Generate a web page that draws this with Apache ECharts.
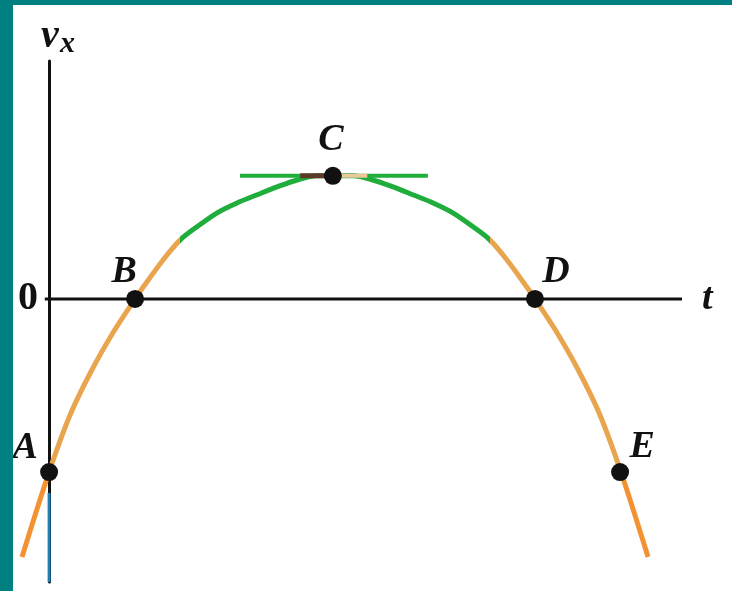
<!DOCTYPE html>
<html>
<head>
<meta charset="utf-8">
<script src="https://cdn.jsdelivr.net/npm/echarts@6/dist/echarts.min.js"></script>
<style>
  html, body { margin: 0; padding: 0; background: #008080; width: 732px; height: 591px; overflow: hidden; }
  #frame { position: absolute; left: 13px; top: 5px; width: 719px; height: 586px; background: #ffffff; }
  #chart { width: 719px; height: 586px; }
</style>
</head>
<body>
<div id="frame"><div id="chart"></div></div>
<script>
// ---- data (t, v_x) ----
const curveT = [-0.63, 0, 0.5, 1.0, 1.5, 2.0, 2.19, 2.65, 3.05, 3.44, 3.91, 4.37, 4.84, 5.30, 5.77, 6.23, 6.6, 7.07, 7.53, 8.0, 8.46, 8.93, 9.39, 9.86, 10.25, 10.65, 11.11, 11.3, 11.8, 12.3, 12.8, 13.3, 13.93];
const curveV = [-6.29, -4.22, -2.80, -1.72, -0.80, 0, 0.29, 0.95, 1.44, 1.76, 2.10, 2.34, 2.54, 2.73, 2.90, 3.0, 3.0, 3.0, 2.90, 2.73, 2.54, 2.34, 2.10, 1.76, 1.44, 0.95, 0.29, 0, -0.80, -1.72, -2.80, -4.22, -6.29];
const pointNames = ['A', 'B', 'C', 'D', 'E'];
const pointT = [0, 2.0, 6.6, 11.3, 13.28];
const pointV = [-4.22, 0, 3.0, 0, -4.22];
const tangentC = [[4.44, 3.0], [8.81, 3.0]];
const brownSeg = [[5.84, 3.0], [6.6, 3.0]];
const tanSeg = [[6.6, 3.0], [7.4, 3.0]];
const blueAxisSeg = [[0, -4.73], [0, -6.9]];
const tAxisSeg = [[-0.1, 0], [14.72, 0]];
const colorBreaksT = [0, 3.05, 10.25, 13.3];
const yTickLabels = [0];

const curve = curveT.map((t, i) => [t, curveV[i]]);
const labelOffsets = { A: [-24, -24], B: [-11, -27], C: [-2, -36], D: [21, -27], E: [22, -25] };
const points = pointNames.map((n, i) => ({
  name: n,
  value: [pointT[i], pointV[i]],
  label: { offset: labelOffsets[n] }
}));

const serif = '"Liberation Serif", "DejaVu Serif", serif';
const chart = echarts.init(document.getElementById('chart'));
chart.setOption({
  animation: false,
  backgroundColor: '#ffffff',
  grid: { left: 6, right: 50, top: 56, bottom: 9, containLabel: false, outerBoundsMode: 'none' },
  visualMap: {
    type: 'piecewise', show: false, dimension: 0, seriesIndex: 2,
    pieces: [
      { lt: colorBreaksT[0], color: '#f39232' },
      { gte: colorBreaksT[0], lt: colorBreaksT[1], color: '#e9a54e' },
      { gte: colorBreaksT[1], lt: colorBreaksT[2], color: '#1fae3c' },
      { gte: colorBreaksT[2], lt: colorBreaksT[3], color: '#e9a54e' },
      { gte: colorBreaksT[3], color: '#f39232' }
    ]
  },
  xAxis: {
    type: 'value', min: -0.7, max: 14.72,
    splitLine: { show: false }, axisTick: { show: false }, axisLabel: { show: false },
    axisLine: { show: false, onZero: true },
    name: 't', nameLocation: 'end', nameGap: 20,
    nameTextStyle: { fontFamily: serif, fontSize: 38, fontWeight: 'bold', fontStyle: 'italic', color: '#111', verticalAlign: 'middle' }
  },
  yAxis: {
    type: 'value', min: -6.9, max: 5.8,
    splitLine: { show: false }, axisTick: { show: false },
    axisLine: { show: true, onZero: true, lineStyle: { color: '#111', width: 3 } },
    axisLabel: { show: true, customValues: yTickLabels, margin: -19, fontFamily: serif, fontSize: 40, fontWeight: 'bold', color: '#111' }
  },
  graphic: [
    { type: 'text', left: 28, top: 12, style: { text: 'v', font: 'italic bold 40px ' + serif, fill: '#111' } },
    { type: 'text', left: 47, top: 24, style: { text: 'x', font: 'italic bold 30px ' + serif, fill: '#111' } }
  ],
  series: [
    { type: 'line', data: tAxisSeg, symbol: 'none', clip: false, lineStyle: { color: '#111', width: 3 }, z: 3 },
    { type: 'line', data: blueAxisSeg, symbol: 'none', clip: false, lineStyle: { color: '#1f7fb5', width: 3 }, z: 3 },
    { type: 'line', data: curve, smooth: 0.3, symbol: 'none', clip: false, lineStyle: { width: 5 }, z: 4 },
    { type: 'line', data: tangentC, symbol: 'none', clip: false, lineStyle: { color: '#1fae3c', width: 4 }, z: 5 },
    { type: 'line', data: brownSeg, symbol: 'none', clip: false, lineStyle: { color: '#5b3a26', width: 5 }, z: 6 },
    { type: 'line', data: tanSeg, symbol: 'none', clip: false, lineStyle: { color: '#ecc89a', width: 4 }, z: 6 },
    {
      type: 'scatter', data: points, symbol: 'circle', symbolSize: 18, clip: false,
      itemStyle: { color: '#111', opacity: 1 }, z: 10,
      label: { show: true, position: 'inside', formatter: '{b}', fontFamily: serif, fontSize: 38, fontWeight: 'bold', fontStyle: 'italic', color: '#111', opacity: 1 }
    }
  ]
});
</script>
</body>
</html>
